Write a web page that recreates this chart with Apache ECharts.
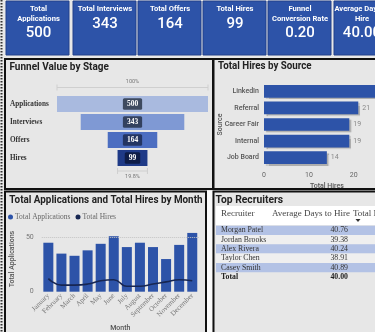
<!DOCTYPE html>
<html>
<head>
<meta charset="utf-8">
<script src="https://cdn.jsdelivr.net/npm/echarts@6/dist/echarts.min.js"></script>
<style>
html,body{margin:0;padding:0;background:#e8e8e8;}
#dash{width:375px;height:332px;}
</style>
</head>
<body>
<div id="dash"></div>
<script>
// ---- KPI cards ----
const kpiTitles = ['Total\nApplications', 'Total Interviews', 'Total Offers', 'Total Hires', 'Funnel\nConversion Rate', 'Average Days to\nHire'];
const kpiValues = ['500', '343', '164', '99', '0.20', '40.00'];

// ---- Funnel ----
const stages = ['Applications', 'Interviews', 'Offers', 'Hires'];
const stageValues = [500, 343, 164, 99];
const funnelTopLabel = '100%';
const funnelBottomLabel = '19.8%';

// ---- Hires by source ----
const sources = ['LinkedIn', 'Referral', 'Career Fair', 'Internal', 'Job Board'];
const sourceHires = [26, 21, 19, 19, 14];
const sourceTicks = [0, 10, 20];

// ---- Monthly ----
const months = ['January', 'February', 'March', 'April', 'May', 'June', 'July', 'August', 'September', 'October', 'November', 'December'];
const monthlyApplications = [45, 35, 33, 38, 44, 51, 41, 45, 41, 30, 43, 54];
const monthlyHires = [12, 6, 6, 7, 10, 11, 5, 5, 7, 9, 11, 10];

// ---- Recruiter table ----
const recruiterHeaders = ['Recruiter', 'Average Days to Hire', 'Total Hires'];
const recruiters = ['Morgan Patel', 'Jordan Brooks', 'Alex Rivera', 'Taylor Chen', 'Casey Smith'];
const recruiterDays = ['40.76', '39.38', '40.24', '38.91', '40.89'];
const recruiterTotal = ['Total', '40.00'];

// ---- styling ----
const BLUE = '#2d53a8';
const TITLE_FONT = 'Roboto, sans-serif';
const SERIF = '"Liberation Serif", "DejaVu Serif", serif';
const funnelColors = ['#a9badf', '#7f99d4', '#4c6ec1', '#1f3a87'];
const funnelLabelBg = ['#3e4a5f', '#33415f', '#233563', '#0e1c47'];

const chart = echarts.init(document.getElementById('dash'), null, { renderer: 'canvas' });

const g = [];

// page strip on the left edge
g.push({ type: 'line', z: 1, shape: { x1: 1.5, y1: 0, x2: 1.5, y2: 332 }, style: { stroke: '#333', lineWidth: 2, lineDash: [1.5, 1.5] } });

// KPI cards
const cardX = [6, 73, 138, 203, 268, 334];
const cardCx = [38.5, 105, 170, 235, 300, 362];
kpiTitles.forEach((t, i) => {
  g.push({ type: 'rect', z: 1, shape: { x: cardX[i], y: 1, width: 63, height: 54 }, style: { fill: BLUE, stroke: '#22418a', lineWidth: 1 } });
  const twoLine = t.indexOf('\n') >= 0;
  g.push({ type: 'text', z: 50, x: cardCx[i], y: twoLine ? 14.5 : 9.5, style: { text: t, fill: '#fff', font: 'bold 7.6px ' + TITLE_FONT, lineHeight: 10, align: 'center', verticalAlign: 'middle' } });
  g.push({ type: 'text', z: 50, x: cardCx[i], y: twoLine ? 33 : 24, style: { text: kpiValues[i], fill: '#fff', font: '500 15px ' + TITLE_FONT, align: 'center', verticalAlign: 'middle' } });
});

// panels
g.push({ type: 'rect', z: 1, shape: { x: 5, y: 59, width: 208, height: 130 }, style: { fill: '#e7e7e7', stroke: '#111', lineWidth: 2 } });
g.push({ type: 'rect', z: 1, shape: { x: 213.5, y: 59, width: 170, height: 130 }, style: { fill: '#e7e7e7', stroke: '#111', lineWidth: 2 } });
g.push({ type: 'rect', z: 1, shape: { x: 5, y: 191.5, width: 201, height: 150 }, style: { fill: '#e7e7e7', stroke: '#111', lineWidth: 2 } });
g.push({ type: 'rect', z: 1, shape: { x: 207, y: 191, width: 5, height: 141 }, style: { fill: '#fafafa' } });
g.push({ type: 'rect', z: 1, shape: { x: 213.5, y: 191.5, width: 170, height: 150 }, style: { fill: '#e7e7e7', stroke: '#111', lineWidth: 2 } });

// panel titles
function title(text, x, y, sx) {
  g.push({ type: 'text', z: 50, x: x, y: y, scaleX: sx, style: { text: text, fill: '#222', font: 'bold 10.5px ' + TITLE_FONT, align: 'left', verticalAlign: 'middle' } });
}
title('Funnel Value by Stage', 9.5, 67, 0.95);
title('Total Hires by Source', 218, 66, 0.93);
title('Total Applications and Total Hires by Month', 9.3, 200, 0.94);
title('Top Recruiters', 215.5, 200, 0.98);

// funnel percentages
g.push({ type: 'text', z: 50, x: 132.5, y: 81.5, style: { text: funnelTopLabel, fill: '#777', font: '5.5px ' + TITLE_FONT, align: 'center', verticalAlign: 'middle' } });
g.push({ type: 'text', z: 50, x: 132.5, y: 177, style: { text: funnelBottomLabel, fill: '#777', font: '5.5px ' + TITLE_FONT, align: 'center', verticalAlign: 'middle' } });

// recruiter table
const colName = 221, colDays = 350, colHires = 353;
g.push({ type: 'rect', z: 2, shape: { x: 216, y: 206, width: 160, height: 19 }, style: { fill: '#ffffff' } });
g.push({ type: 'text', z: 50, x: colName, y: 213.7, style: { text: recruiterHeaders[0], fill: '#444', font: '9px ' + SERIF, align: 'left', verticalAlign: 'middle' } });
g.push({ type: 'text', z: 50, x: colDays, y: 213.7, style: { text: recruiterHeaders[1], fill: '#444', font: '9px ' + SERIF, align: 'right', verticalAlign: 'middle' } });
g.push({ type: 'text', z: 50, x: colHires, y: 213.7, style: { text: recruiterHeaders[2], fill: '#444', font: '9px ' + SERIF, align: 'left', verticalAlign: 'middle' } });
g.push({ type: 'polygon', z: 50, shape: { points: [[355.5, 219], [360.5, 219], [358, 222]] }, style: { fill: '#333' } });
const rowTop = 225.7, rowH = 9.3;
recruiters.forEach((name, i) => {
  const y = rowTop + i * rowH;
  g.push({ type: 'rect', z: 2, shape: { x: 216, y: y, width: 160, height: rowH }, style: { fill: i % 2 === 0 ? '#b3c2e5' : '#efefef' } });
  g.push({ type: 'text', z: 50, x: colName, y: y + rowH / 2, style: { text: name, fill: '#333', font: '7.8px ' + SERIF, align: 'left', verticalAlign: 'middle' } });
  g.push({ type: 'text', z: 50, x: colDays - 2, y: y + rowH / 2, style: { text: recruiterDays[i], fill: '#333', font: '7.8px ' + SERIF, align: 'right', verticalAlign: 'middle' } });
});
const totY = rowTop + recruiters.length * rowH + 5;
g.push({ type: 'text', z: 50, x: colName, y: totY, style: { text: recruiterTotal[0], fill: '#222', font: 'bold 7.8px ' + SERIF, align: 'left', verticalAlign: 'middle' } });
g.push({ type: 'text', z: 50, x: colDays - 2, y: totY, style: { text: recruiterTotal[1], fill: '#222', font: 'bold 7.8px ' + SERIF, align: 'right', verticalAlign: 'middle' } });

const axisName = { fontFamily: TITLE_FONT, fontSize: 7, fontWeight: 500, color: '#555' };

const option = {
  backgroundColor: '#e8e8e8',
  animation: false,
  legend: {
    data: ['Total Applications', 'Total Hires'],
    left: 8, top: 213, padding: 0,
    icon: 'circle', itemWidth: 5, itemHeight: 5, itemGap: 5,
    textStyle: { fontFamily: SERIF, fontSize: 7.5, color: '#666', padding: [0, 0, 0, -3] }
  },
  grid: [
    { left: 57, top: 95, width: 151, height: 72, outerBoundsMode: 'none' },
    { left: 264, top: 83, width: 125.7, height: 83, outerBoundsMode: 'none' },
    { left: 41.8, top: 226.4, width: 157, height: 65.3, outerBoundsMode: 'none' }
  ],
  xAxis: [
    { gridIndex: 0, type: 'value', min: 0, max: stageValues[0], show: false },
    {
      gridIndex: 1, type: 'value', min: 0, max: 28, interval: 10, z: 5,
      axisLine: { show: false }, axisTick: { show: false }, splitLine: { show: false },
      axisLabel: { margin: 6, fontFamily: TITLE_FONT, fontSize: 7, color: '#666', formatter: v => sourceTicks.indexOf(v) >= 0 ? String(v) : '' },
      name: 'Total Hires', nameLocation: 'middle', nameGap: 17, nameTextStyle: axisName
    },
    {
      gridIndex: 2, type: 'category', data: months, z: 5,
      axisLine: { show: false }, axisTick: { show: false },
      axisLabel: { rotate: 45, margin: 3, interval: 0, fontFamily: SERIF, fontSize: 7, color: '#777' },
      name: 'Month', nameLocation: 'middle', nameGap: 33, nameTextStyle: axisName
    }
  ],
  yAxis: [
    {
      gridIndex: 0, type: 'category', data: stages, inverse: true, z: 5,
      axisLine: { show: false }, axisTick: { show: false },
      axisLabel: { align: 'left', margin: 47, fontFamily: SERIF, fontWeight: 'bold', fontSize: 7.2, color: '#333' }
    },
    {
      gridIndex: 1, type: 'category', data: sources, inverse: true, z: 5,
      axisLine: { show: false }, axisTick: { show: false },
      axisLabel: { margin: 5, fontFamily: TITLE_FONT, fontWeight: 500, fontSize: 7, color: '#555' },
      name: 'Source', nameLocation: 'middle', nameGap: 40, nameRotate: 90, nameMoveOverlap: false, nameTextStyle: axisName
    },
    {
      gridIndex: 2, type: 'value', min: 0, max: 60, interval: 50, z: 5,
      axisLine: { show: false }, axisTick: { show: false }, splitLine: { show: false },
      axisLabel: { margin: 8, fontFamily: TITLE_FONT, fontSize: 7, color: '#777', formatter: v => v > 50 ? '' : String(v) },
      name: 'Total Applications', nameLocation: 'middle', nameGap: 26, nameTextStyle: axisName
    }
  ],
  series: [
    {
      type: 'bar', xAxisIndex: 0, yAxisIndex: 0, stack: 'funnel', silent: true, barWidth: 16,
      itemStyle: { color: 'rgba(0,0,0,0)' },
      data: stageValues.map(v => (stageValues[0] - v) / 2)
    },
    {
      type: 'bar', name: 'Stage', xAxisIndex: 0, yAxisIndex: 0, stack: 'funnel', barWidth: 16,
      data: stageValues.map((v, i) => ({ value: v, itemStyle: { color: funnelColors[i] }, label: { backgroundColor: funnelLabelBg[i] } })),
      label: { show: true, position: 'inside', color: '#fff', fontFamily: SERIF, fontWeight: 'bold', fontSize: 7.5, padding: [2, 4, 1.5, 4], borderRadius: 1.5 }
    },
    {
      type: 'bar', name: 'Hires by Source', xAxisIndex: 1, yAxisIndex: 1, barWidth: 12.7,
      data: sourceHires,
      itemStyle: { color: BLUE, shadowColor: 'rgba(0,0,0,0.25)', shadowOffsetX: 2, shadowOffsetY: 1.5, shadowBlur: 1 },
      label: { show: true, position: 'right', distance: 4, fontFamily: TITLE_FONT, fontSize: 7, color: '#888' }
    },
    {
      type: 'bar', name: 'Total Applications', xAxisIndex: 2, yAxisIndex: 2, barWidth: 10,
      data: monthlyApplications, itemStyle: { color: BLUE },
      markLine: { silent: true, symbol: 'none', label: { show: false }, lineStyle: { color: '#c4c4c4', type: 'dotted', width: 1 }, data: [{ yAxis: 50 }] }
    },
    {
      type: 'line', name: 'Total Hires', xAxisIndex: 2, yAxisIndex: 2, smooth: 0.5, showSymbol: false,
      data: monthlyHires, itemStyle: { color: '#172652' }, lineStyle: { color: '#172652', width: 1.6 }
    }
  ],
  graphic: { elements: g }
};

chart.setOption(option);

// funnel brackets, positioned from the funnel axis
const first = stageValues[0], last = stageValues[stageValues.length - 1];
const topL = chart.convertToPixel({ gridIndex: 0 }, [0, stages[0]]);
const topR = chart.convertToPixel({ gridIndex: 0 }, [first, stages[0]]);
const botL = chart.convertToPixel({ gridIndex: 0 }, [(first - last) / 2, stages[stages.length - 1]]);
const botR = chart.convertToPixel({ gridIndex: 0 }, [(first + last) / 2, stages[stages.length - 1]]);
function bracket(x1, x2, y) {
  return [
    { type: 'line', z: 40, shape: { x1: x1, y1: y, x2: x2, y2: y }, style: { stroke: '#cfcfcf', lineWidth: 1 } },
    { type: 'line', z: 40, shape: { x1: x1, y1: y - 3, x2: x1, y2: y + 3 }, style: { stroke: '#cfcfcf', lineWidth: 1 } },
    { type: 'line', z: 40, shape: { x1: x2, y1: y - 3, x2: x2, y2: y + 3 }, style: { stroke: '#cfcfcf', lineWidth: 1 } }
  ];
}
chart.setOption({ graphic: { elements: g.concat(bracket(topL[0], topR[0], 87.5), bracket(botL[0], botR[0], 171)) } });
</script>
</body>
</html>
